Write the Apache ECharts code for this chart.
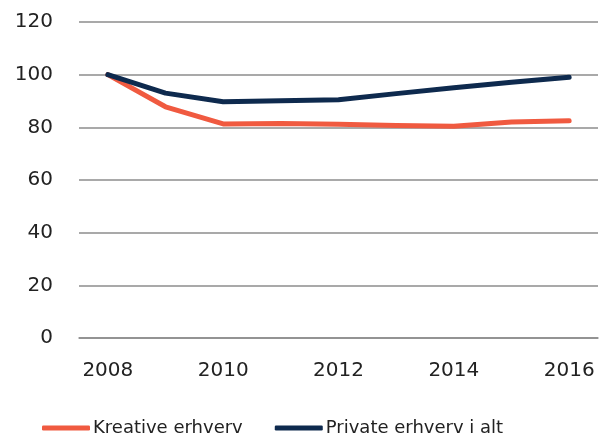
<!DOCTYPE html>
<html><head><meta charset="utf-8">
<script src="https://cdn.jsdelivr.net/npm/echarts@6/dist/echarts.min.js"></script>
<style>html,body{margin:0;padding:0;background:#fff}#c{width:606px;height:439px}</style>
</head><body><div id="c"></div>
<script>
const years = ['2008','2009','2010','2011','2012','2013','2014','2015','2016'];
const kreative = [100, 87.8, 81.3, 81.5, 81.2, 80.7, 80.4, 82.0, 82.5];
const private_ = [100, 93.0, 89.7, 90.1, 90.5, 92.8, 95.0, 97.1, 99.0];
const yTicks = [0, 20, 40, 60, 80, 100, 120];
const font = '"DejaVu Sans", sans-serif';
const chart = echarts.init(document.getElementById('c'));
chart.setOption({
  animation: false,
  grid: {left: 79, right: 8, top: 22, bottom: 101},
  legend: {
    bottom: -3, left: 37, itemWidth: 48, itemHeight: 5, itemGap: 32,
    icon: 'roundRect',
    textStyle: {fontFamily: font, fontSize: 18, color: '#222', padding: [0,0,0,-2]},
    data: ['Kreative erhverv', 'Private erhverv i alt']
  },
  xAxis: {
    type: 'category', data: years, boundaryGap: true,
    axisLine: {show: true, lineStyle: {color: '#8c8c8c', width: 1.5}},
    axisTick: {show: false},
    axisLabel: {interval: 1, fontFamily: font, fontSize: 20, color: '#222', margin: 23}
  },
  yAxis: {
    type: 'value', min: yTicks[0], max: yTicks[yTicks.length-1], interval: 20,
    axisLine: {show: false}, axisTick: {show: false},
    splitLine: {lineStyle: {color: '#8c8c8c', width: 1.5}},
    axisLabel: {fontFamily: font, fontSize: 20, color: '#222', margin: 26}
  },
  series: [
    {name: 'Kreative erhverv', type: 'line', data: kreative, symbol: 'none',
     lineStyle: {color: '#F05A40', width: 5, cap: 'round', join: 'round'}, itemStyle: {color: '#F05A40'}},
    {name: 'Private erhverv i alt', type: 'line', data: private_, symbol: 'none',
     lineStyle: {color: '#0E2A4E', width: 5, cap: 'round', join: 'round'}, itemStyle: {color: '#0E2A4E'}}
  ]
});
</script></body></html>
